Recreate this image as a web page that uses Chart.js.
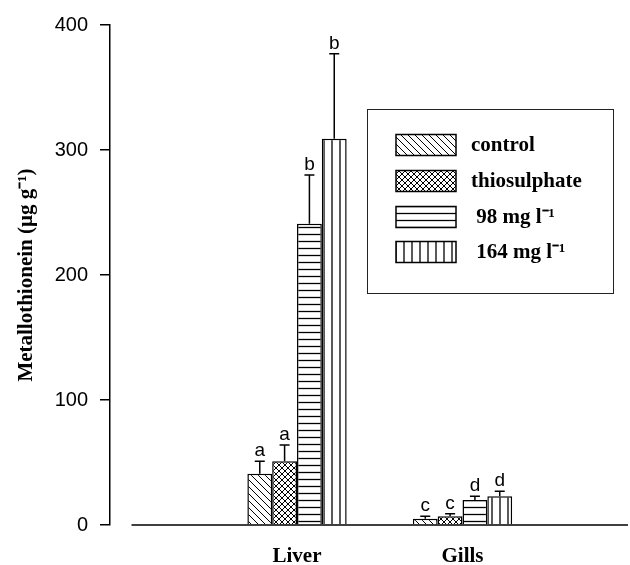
<!DOCTYPE html>
<html>
<head>
<meta charset="utf-8">
<script src="https://cdn.jsdelivr.net/npm/chart.js@4.4.1/dist/chart.umd.min.js"></script>
<style>
  html, body { margin: 0; padding: 0; background: #fff; }
  #wrap { width: 630px; height: 565px; position: relative; }
</style>
</head>
<body>
<div id="wrap"><canvas id="mtChart"></canvas></div>
<script>
// Metallothionein in liver and gills for each treatment group
const tissues = ['Liver', 'Gills'];
const treatments = ['control', 'thiosulphate', ' 98 mg l\u207B\u00B9', ' 164 mg l\u207B\u00B9'];

const controlMean = [41, 5];
const thioMean    = [51, 7];
const mg98Mean    = [241, 20];
const mg164Mean   = [309, 23];

const controlErr = [10, 2];
const thioErr    = [13, 2];
const mg98Err    = [39, 3];
const mg164Err   = [68, 4];

const controlSig = ['a', 'c'];
const thioSig    = ['a', 'c'];
const mg98Sig    = ['b', 'd'];
const mg164Sig   = ['b', 'd'];

const yTicks = [0, 100, 200, 300, 400];

// Hatch fills
function makePattern(kind) {
  const c = document.createElement('canvas');
  const g = c.getContext('2d');
  let s = 7;
  if (kind === 'vert') s = 8;
  if (kind === 'cross') s = 6;
  c.width = s; c.height = s;
  g.fillStyle = '#fff';
  g.fillRect(0, 0, s, s);
  g.strokeStyle = '#000';
  g.lineWidth = 1;
  g.beginPath();
  if (kind === 'back' || kind === 'cross') {
    g.moveTo(-1, -1); g.lineTo(s + 1, s + 1);
    g.moveTo(-1, s - 1); g.lineTo(1, s + 1);
    g.moveTo(s - 1, -1); g.lineTo(s + 1, 1);
  }
  if (kind === 'cross') {
    g.moveTo(s + 1, -1); g.lineTo(-1, s + 1);
    g.moveTo(1, -1); g.lineTo(-1, 1);
    g.moveTo(s + 1, s - 1); g.lineTo(s - 1, s + 1);
  }
  if (kind === 'horiz') {
    g.lineWidth = 1.3;
    g.moveTo(0, 3.5); g.lineTo(s, 3.5);
  }
  if (kind === 'vert') {
    g.lineWidth = 1.3;
    g.moveTo(4, 0); g.lineTo(4, s);
  }
  g.stroke();
  return g.createPattern(c, 'repeat');
}

const fills = [makePattern('back'), makePattern('cross'), makePattern('horiz'), makePattern('vert')];
const means = [controlMean, thioMean, mg98Mean, mg164Mean];
const errs = [controlErr, thioErr, mg98Err, mg164Err];
const sigs = [controlSig, thioSig, mg98Sig, mg164Sig];

const datasets = treatments.map((name, i) => ({
  label: name,
  data: tissues.map((t, j) => ({ x: j + 1, y: means[i][j] })),
  errors: errs[i],
  letters: sigs[i],
  backgroundColor: fills[i],
  borderColor: '#000',
  borderWidth: 1.5,
  categoryPercentage: 0.6,
  barPercentage: 1.0
}));

// Upward error bars with significance letters above them
const errorBars = {
  id: 'errorBars',
  afterDatasetsDraw(chart) {
    const ctx = chart.ctx;
    const ys = chart.scales.y;
    chart.data.datasets.forEach((ds, i) => {
      const meta = chart.getDatasetMeta(i);
      meta.data.forEach((bar, j) => {
        const top = ys.getPixelForValue(ds.data[j].y + ds.errors[j]);
        ctx.save();
        ctx.strokeStyle = '#000';
        ctx.lineWidth = 1.5;
        ctx.beginPath();
        ctx.moveTo(bar.x, bar.y);
        ctx.lineTo(bar.x, top);
        ctx.moveTo(bar.x - 5, top);
        ctx.lineTo(bar.x + 5, top);
        ctx.stroke();
        ctx.fillStyle = '#000';
        ctx.font = '19px "Liberation Sans", Arial, sans-serif';
        ctx.textAlign = 'center';
        ctx.textBaseline = 'alphabetic';
        ctx.fillText(ds.letters[j], bar.x, top - 5);
        ctx.restore();
      });
    });
  }
};

// Horizontal baseline starting at x = 0 (detached from the y axis)
const baseline = {
  id: 'baseline',
  afterDatasetsDraw(chart) {
    const { ctx, chartArea, scales } = chart;
    const y0 = scales.y.getPixelForValue(0);
    ctx.save();
    ctx.strokeStyle = '#000';
    ctx.lineWidth = 1.5;
    ctx.beginPath();
    ctx.moveTo(scales.x.getPixelForValue(0), y0);
    ctx.lineTo(chartArea.right, y0);
    ctx.stroke();
    ctx.restore();
  }
};

// Boxed legend inside the plot
const boxLegend = {
  id: 'boxLegend',
  afterDraw(chart) {
    const ctx = chart.ctx;
    const bx = 367, by = 109, bw = 246, bh = 184;
    ctx.save();
    ctx.strokeStyle = '#222';
    ctx.lineWidth = 1;
    ctx.strokeRect(bx + 0.5, by + 0.5, bw, bh);
    const rows = [145, 181, 217, 252];
    chart.data.datasets.forEach((ds, i) => {
      const cy = rows[i];
      ctx.fillStyle = ds.backgroundColor;
      ctx.fillRect(396, cy - 10.5, 60, 21);
      ctx.strokeStyle = '#000';
      ctx.lineWidth = 1.5;
      ctx.strokeRect(396, cy - 10.5, 60, 21);
      ctx.fillStyle = '#000';
      ctx.font = 'bold 21px "Liberation Serif", "Times New Roman", serif';
      ctx.textAlign = 'left';
      ctx.textBaseline = 'middle';
      ctx.fillText(ds.label, 471, cy + 1);
    });
    ctx.restore();
  }
};

new Chart(document.getElementById('mtChart'), {
  type: 'bar',
  data: { datasets },
  plugins: [baseline, errorBars, boxLegend],
  options: {
    responsive: true,
    maintainAspectRatio: false,
    animation: false,
    layout: { padding: { top: 25, right: 2, left: 0, bottom: 0 } },
    plugins: {
      legend: { display: false },
      tooltip: { enabled: false }
    },
    scales: {
      x: {
        type: 'linear',
        min: -0.13,
        max: 3,
        offset: false,
        grid: { display: false },
        border: { display: false },
        afterBuildTicks(scale) {
          scale.ticks = tissues.map((t, j) => ({ value: j + 1 }));
        },
        afterFit(scale) { scale.height = 40; },
        ticks: {
          autoSkip: false,
          maxRotation: 0,
          padding: 11,
          color: '#000',
          font: { family: '"Liberation Serif", "Times New Roman", serif', size: 21, weight: 'bold' },
          callback: (v) => tissues[Math.round(v) - 1] || ''
        }
      },
      y: {
        min: 0,
        max: 400,
        afterBuildTicks(scale) {
          scale.ticks = yTicks.map(v => ({ value: v }));
        },
        afterFit(scale) { scale.width = 110; },
        grid: {
          drawOnChartArea: false,
          drawTicks: true,
          tickLength: 10,
          color: '#000',
          lineWidth: 1.5
        },
        border: { display: true, color: '#000', width: 1.5 },
        ticks: {
          padding: 12,
          color: '#000',
          font: { family: '"Liberation Sans", Arial, sans-serif', size: 20 }
        },
        title: {
          display: true,
          text: 'Metallothionein (\u00B5g g\u207B\u00B9)',
          color: '#000',
          padding: { top: 14, bottom: 0 },
          font: { family: '"Liberation Serif", "Times New Roman", serif', size: 21, weight: 'bold' }
        }
      }
    }
  }
});
</script>
</body>
</html>
